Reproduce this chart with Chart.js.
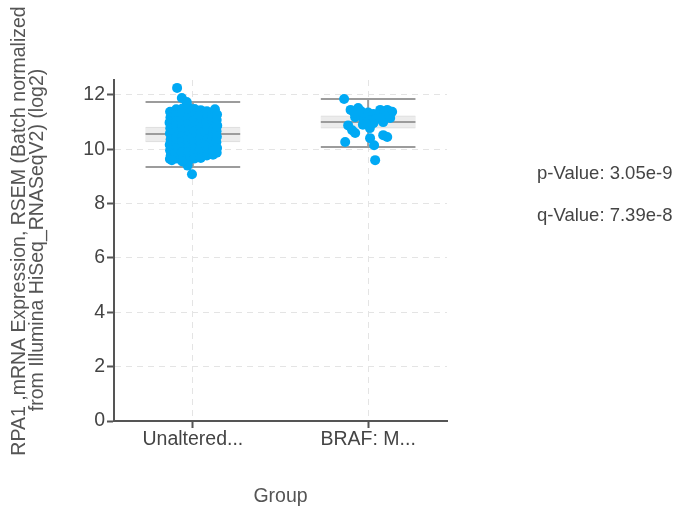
<!DOCTYPE html>
<html lang="en">
<head>
  <meta charset="UTF-8">
  <title>RPA1 expression by group</title>
  <script src="https://cdn.jsdelivr.net/npm/chart.js"></script>
  <style>
    body { margin: 0; background: #fff; }
    #box { display: block; }
  </style>
</head>
<body>
  <canvas id="box" width="691" height="516"></canvas>
  <script>
    // groups on the x axis
    const categories = ['Unaltered...', 'BRAF: M...'];
    const yTicks = [0, 2, 4, 6, 8, 10, 12];

    // box stats per group: low whisker, q1, median, q3, high whisker
    const whiskerLow = [9.35, 10.08];
    const q1 = [10.27, 10.78];
    const median = [10.56, 11.0];
    const q3 = [10.82, 11.23];
    const whiskerHigh = [11.74, 11.85];

    // [jitter, value]
    const unalteredPoints = [
      [-0.13, 11.38], [-0.128, 11.17], [-0.133, 10.98], [-0.129, 10.77], [-0.131, 10.58],
      [-0.127, 10.36], [-0.132, 10.17], [-0.13, 9.96], [-0.126, 9.78], [-0.131, 9.64],
      [-0.095, 11.47], [-0.098, 11.26], [-0.092, 11.03], [-0.096, 10.88], [-0.094, 10.62],
      [-0.097, 10.44], [-0.093, 10.22], [-0.095, 10.03], [-0.099, 9.84], [-0.091, 9.66],
      [-0.06, 11.5], [-0.062, 11.31], [-0.058, 11.09], [-0.061, 10.9], [-0.057, 10.7],
      [-0.063, 10.48], [-0.059, 10.29], [-0.06, 10.08], [-0.064, 9.88], [-0.056, 9.7],
      [-0.025, 11.55], [-0.022, 11.34], [-0.027, 11.12], [-0.024, 10.93], [-0.026, 10.71],
      [-0.021, 10.52], [-0.028, 10.31], [-0.023, 10.1], [-0.025, 9.9], [-0.02, 9.62],
      [0.01, 11.48], [0.013, 11.28], [0.007, 11.06], [0.011, 10.86], [0.009, 10.66],
      [0.014, 10.45], [0.006, 10.24], [0.012, 10.04], [0.008, 9.82], [0.01, 9.66],
      [0.045, 11.44], [0.042, 11.22], [0.048, 11.01], [0.044, 10.81], [0.047, 10.61],
      [0.041, 10.4], [0.046, 10.19], [0.043, 9.98], [0.049, 9.8], [0.045, 9.68],
      [0.08, 11.4], [0.083, 11.19], [0.077, 10.99], [0.081, 10.79], [0.079, 10.57],
      [0.084, 10.38], [0.078, 10.16], [0.082, 9.95], [0.08, 9.77],
      [0.115, 11.36], [0.112, 11.15], [0.118, 10.95], [0.114, 10.74], [0.117, 10.54],
      [0.111, 10.33], [0.116, 10.13], [0.113, 9.93], [0.115, 9.8],
      [0.126, 11.47], [0.138, 11.28], [0.136, 11.08], [0.139, 10.87], [0.135, 10.66],
      [0.137, 10.46], [0.134, 10.26], [0.138, 10.05], [0.136, 9.87],
      [-0.09, 12.26], [-0.063, 11.89], [-0.035, 11.74], [-0.005, 9.08],
      [-0.03, 9.4], [-0.06, 9.55], [-0.12, 9.6]
    ];
    const brafPoints = [
      [-0.137, 11.85],
      [-0.1, 11.45], [-0.057, 11.52], [0.069, 11.45], [0.109, 11.45], [0.137, 11.38],
      [0.126, 11.15], [-0.006, 11.18], [-0.029, 11.15], [0.03, 10.96], [-0.074, 11.18],
      [0.086, 11.0], [0.051, 11.18], [-0.08, 11.35], [-0.04, 11.4], [0.0, 11.35],
      [0.03, 11.3], [0.06, 11.3], [0.09, 11.32], [0.12, 11.3], [0.1, 11.2],
      [0.01, 11.05], [0.04, 11.1], [-0.02, 11.0], [0.07, 11.12], [-0.03, 10.9], [0.01, 10.78],
      [-0.114, 10.88], [-0.091, 10.7], [-0.074, 10.6], [-0.131, 10.27], [0.011, 10.41],
      [0.034, 10.15], [0.086, 10.52], [0.109, 10.45], [0.04, 9.6]
    ];

    const yTitle = ['RPA1 ,mRNA Expression, RSEM (Batch normalized', 'from Illumina HiSeq_RNASeqV2) (log2)'];
    const stats = ['p-Value: 3.05e-9', 'q-Value: 7.39e-8'];

    const halfBox = 0.27;
    const fontFamily = '"Liberation Sans", Arial, sans-serif';

    // whiskers, median and the vertical stem, split by nulls
    const boxLines = [];
    categories.forEach((c, i) => {
      const x = i + 1;
      [whiskerHigh[i], median[i], whiskerLow[i]].forEach(v => {
        boxLines.push({ x: x - halfBox, y: v }, { x: x + halfBox, y: v }, { x: x, y: null });
      });
      boxLines.push({ x: x, y: whiskerLow[i] }, { x: x, y: whiskerHigh[i] }, { x: x, y: null });
    });

    const scatter = [];
    unalteredPoints.forEach(p => scatter.push({ x: 1 + p[0], y: p[1] }));
    brafPoints.forEach(p => scatter.push({ x: 2 + p[0], y: p[1] }));

    // y title and p/q values drawn as plain text
    const textPlugin = {
      id: 'sideText',
      afterDraw(chart) {
        const ctx = chart.ctx;
        ctx.save();
        ctx.fillStyle = '#555';
        ctx.font = '19.5px ' + fontFamily;
        ctx.textAlign = 'center';
        ctx.textBaseline = 'middle';
        const centers = [[20, 231], [38, 240]];
        yTitle.forEach((t, i) => {
          ctx.save();
          ctx.translate(centers[i][0], centers[i][1]);
          ctx.rotate(-Math.PI / 2);
          ctx.fillText(t, 0, 0);
          ctx.restore();
        });
        ctx.fillStyle = '#444';
        ctx.textAlign = 'left';
        ctx.font = '18.5px ' + fontFamily;
        ctx.fillText(stats[0], 537, 174);
        ctx.fillText(stats[1], 537, 216);
        ctx.restore();
      }
    };

    new Chart(document.getElementById('box'), {
      type: 'scatter',
      data: {
        datasets: [
          {
            type: 'scatter',
            data: scatter,
            order: 0,
            backgroundColor: '#00a9f4',
            borderWidth: 0,
            pointRadius: 5
          },
          {
            type: 'line',
            data: boxLines,
            order: 1,
            borderColor: '#9c9c9c',
            borderWidth: 2,
            pointRadius: 0,
            spanGaps: false,
            fill: false
          },
          {
            type: 'bar',
            data: categories.map((c, i) => ({ x: i + 1, y: [q1[i], q3[i]] })),
            order: 2,
            backgroundColor: '#ececec',
            borderColor: '#dcdcdc',
            borderWidth: { top: 1, bottom: 1, left: 0, right: 0 },
            borderSkipped: false,
            barThickness: 95
          }
        ]
      },
      options: {
        responsive: false,
        animation: false,
        layout: { padding: { top: 80, right: 244, left: 0, bottom: 0 } },
        plugins: { legend: { display: false }, tooltip: { enabled: false } },
        scales: {
          x: {
            type: 'linear',
            min: 0.55,
            max: 2.45,
            offset: false,
            afterFit: s => { s.height = 95; },
            afterBuildTicks: s => { s.ticks = categories.map((c, i) => ({ value: i + 1 })); },
            ticks: {
              callback: v => categories[v - 1],
              color: '#444',
              padding: 0,
              maxRotation: 0,
              autoSkip: false,
              font: { family: fontFamily, size: 19.5 }
            },
            grid: {
              offset: false,
              color: '#e4e4e4',
              tickColor: '#555',
              tickLength: 7,
              tickWidth: 2
            },
            border: { color: '#555', width: 2, dash: [6, 5] },
            title: {
              display: true,
              text: 'Group',
              color: '#555',
              padding: { top: 0, bottom: 8 },
              font: { family: fontFamily, size: 19.5 }
            }
          },
          y: {
            type: 'linear',
            min: 0,
            max: 12.55,
            afterFit: s => { s.width = 114; },
            afterBuildTicks: s => { s.ticks = yTicks.map(v => ({ value: v })); },
            ticks: {
              color: '#444',
              padding: 2,
              font: { family: fontFamily, size: 19.5 }
            },
            grid: {
              color: '#e4e4e4',
              tickColor: '#555',
              tickLength: 7,
              tickWidth: 2
            },
            border: { color: '#555', width: 2, dash: [6, 5] }
          }
        }
      },
      plugins: [textPlugin]
    });
  </script>
</body>
</html>
